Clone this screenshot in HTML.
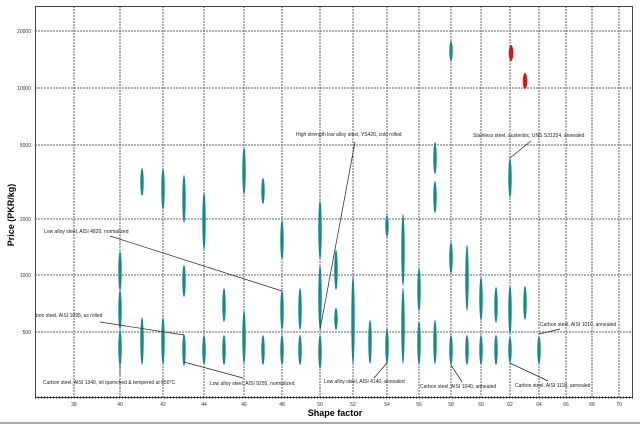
<!DOCTYPE html>
<html><head><style>body{margin:0;background:#fff}svg{display:block}text{font-family:"Liberation Sans",sans-serif}</style></head>
<body>
<svg width="640" height="426" viewBox="0 0 640 426">
<rect x="0" y="0" width="640" height="426" fill="#fff"/>
<g stroke="#666" stroke-width="1" stroke-dasharray="2,1">
<line x1="35" y1="31" x2="633" y2="31"/><line x1="35" y1="88" x2="633" y2="88"/><line x1="35" y1="145" x2="633" y2="145"/><line x1="35" y1="219" x2="633" y2="219"/><line x1="35" y1="275" x2="633" y2="275"/><line x1="35" y1="332" x2="633" y2="332"/>
<line x1="74" y1="6" x2="74" y2="397"/><line x1="120" y1="6" x2="120" y2="397"/><line x1="163" y1="6" x2="163" y2="397"/><line x1="204" y1="6" x2="204" y2="397"/><line x1="244" y1="6" x2="244" y2="397"/><line x1="282" y1="6" x2="282" y2="397"/><line x1="320" y1="6" x2="320" y2="397"/><line x1="353" y1="6" x2="353" y2="397"/><line x1="387" y1="6" x2="387" y2="397"/><line x1="419" y1="6" x2="419" y2="397"/><line x1="451" y1="6" x2="451" y2="397"/><line x1="481" y1="6" x2="481" y2="397"/><line x1="510" y1="6" x2="510" y2="397"/><line x1="539" y1="6" x2="539" y2="397"/><line x1="566" y1="6" x2="566" y2="397"/><line x1="592" y1="6" x2="592" y2="397"/><line x1="619" y1="6" x2="619" y2="397"/>
</g>
<rect x="35.5" y="6.5" width="597" height="391" fill="none" stroke="#444" stroke-width="1"/>
<line x1="35" y1="397.5" x2="633" y2="397.5" stroke="#222" stroke-width="2" stroke-dasharray="1,2"/>
<line x1="0" y1="423" x2="640" y2="423" stroke="#aaa" stroke-width="2"/>
<g font-size="5" fill="#333" text-anchor="end">
<text x="31" y="33">20000</text><text x="31" y="90">10000</text><text x="31" y="147">5000</text><text x="31" y="221">2000</text><text x="31" y="277">1000</text><text x="31" y="334">500</text></g>
<g font-size="5" fill="#333" text-anchor="middle">
<text x="74" y="406">38</text><text x="120" y="406">40</text><text x="163" y="406">42</text><text x="204" y="406">44</text><text x="244" y="406">46</text><text x="282" y="406">48</text><text x="320" y="406">50</text><text x="353" y="406">52</text><text x="387" y="406">54</text><text x="419" y="406">56</text><text x="451" y="406">58</text><text x="481" y="406">60</text><text x="510" y="406">62</text><text x="539" y="406">64</text><text x="566" y="406">66</text><text x="592" y="406">68</text><text x="619" y="406">70</text></g>
<text x="335" y="416" font-size="9" font-weight="bold" text-anchor="middle">Shape factor</text>
<text transform="translate(14,215) rotate(-90)" font-size="9" font-weight="bold" text-anchor="middle">Price (PKR/kg)</text>
<g fill="#128a86">
<ellipse cx="120" cy="271" rx="1.7" ry="20"/><ellipse cx="120" cy="310" rx="1.7" ry="20"/><ellipse cx="120" cy="348" rx="1.7" ry="18"/>
<ellipse cx="142" cy="182" rx="1.7" ry="14"/><ellipse cx="142" cy="341" rx="1.7" ry="24"/>
<ellipse cx="163" cy="189" rx="1.7" ry="21"/><ellipse cx="163" cy="341" rx="1.7" ry="24"/>
<ellipse cx="184" cy="199" rx="1.7" ry="24"/><ellipse cx="184" cy="281" rx="1.7" ry="16"/><ellipse cx="184" cy="350" rx="1.7" ry="16"/>
<ellipse cx="204" cy="221" rx="1.7" ry="29"/><ellipse cx="204" cy="350" rx="1.7" ry="15"/>
<ellipse cx="224" cy="305" rx="1.7" ry="17"/><ellipse cx="224" cy="350" rx="1.7" ry="15"/>
<ellipse cx="244" cy="171" rx="1.7" ry="24"/><ellipse cx="244" cy="337" rx="1.7" ry="27"/>
<ellipse cx="263" cy="191" rx="1.7" ry="13"/><ellipse cx="263" cy="350" rx="1.7" ry="15"/>
<ellipse cx="282" cy="240" rx="1.7" ry="20"/><ellipse cx="282" cy="310" rx="1.7" ry="20"/><ellipse cx="282" cy="350" rx="1.7" ry="15"/>
<ellipse cx="300" cy="309" rx="1.7" ry="21"/><ellipse cx="300" cy="350" rx="1.7" ry="15"/>
<ellipse cx="320" cy="230" rx="1.7" ry="30"/><ellipse cx="320" cy="297" rx="1.7" ry="32"/><ellipse cx="320" cy="352" rx="1.7" ry="17"/>
<ellipse cx="336" cy="270" rx="1.7" ry="20"/><ellipse cx="336" cy="319" rx="1.7" ry="11"/>
<ellipse cx="353" cy="320" rx="1.7" ry="45"/>
<ellipse cx="370" cy="342" rx="1.7" ry="22"/>
<ellipse cx="387" cy="226" rx="1.7" ry="11"/><ellipse cx="387" cy="346" rx="1.7" ry="18"/>
<ellipse cx="403" cy="250" rx="1.7" ry="36"/><ellipse cx="403" cy="326" rx="1.7" ry="38"/>
<ellipse cx="419" cy="290" rx="1.7" ry="22"/><ellipse cx="419" cy="343" rx="1.7" ry="22"/>
<ellipse cx="435" cy="158" rx="1.7" ry="16"/><ellipse cx="435" cy="197" rx="1.7" ry="16"/><ellipse cx="435" cy="342" rx="1.7" ry="22"/>
<ellipse cx="451" cy="51" rx="1.7" ry="10"/><ellipse cx="451" cy="258" rx="1.7" ry="16"/><ellipse cx="451" cy="350" rx="1.7" ry="15"/>
<ellipse cx="467" cy="278" rx="1.7" ry="33"/><ellipse cx="467" cy="350" rx="1.7" ry="15"/>
<ellipse cx="481" cy="299" rx="1.7" ry="22"/><ellipse cx="481" cy="350" rx="1.7" ry="15"/>
<ellipse cx="496" cy="305" rx="1.7" ry="18"/><ellipse cx="496" cy="350" rx="1.7" ry="15"/>
<ellipse cx="510" cy="178" rx="1.7" ry="20"/><ellipse cx="510" cy="310" rx="1.7" ry="25"/><ellipse cx="510" cy="350" rx="1.7" ry="13"/>
<ellipse cx="525" cy="303" rx="1.7" ry="17"/>
<ellipse cx="539" cy="350" rx="1.7" ry="14"/>
</g>
<g fill="#d01818"><ellipse cx="511" cy="53" rx="2.3" ry="8"/><ellipse cx="525" cy="81" rx="2.3" ry="8"/></g>
<g stroke="#222" stroke-width="0.7" fill="none">
<polyline points="110,236 282,291"/>
<polyline points="100,322 184,335"/>
<polyline points="120,365 120,375"/>
<polyline points="184,362 243,378"/>
<polyline points="320,330 355,142"/>
<polyline points="387,363 374,378"/>
<polyline points="451,365 462,382"/>
<polyline points="510,363 548,381"/>
<polyline points="539,334 560,329"/>
<polyline points="510,158 531,141"/>
</g>
<g font-size="5" fill="#222">
<text x="44" y="233">Low alloy steel, AISI 4820, normalized</text>
<text x="36" y="317">bon steel, AISI 1095, as rolled</text>
<text x="43" y="384">Carbon steel, AISI 1340, oil quenched &amp; tempered at 650°C</text>
<text x="210" y="385">Low alloy steel, AISI 9255, normalized</text>
<text x="296" y="136">High strength low alloy steel, YS420, cold rolled</text>
<text x="324" y="383">Low alloy steel, AISI 4140, annealed</text>
<text x="420" y="388">Carbon steel, AISI 1040, annealed</text>
<text x="515" y="387">Carbon steel, AISI 1118, annealed</text>
<text x="540" y="326">Carbon steel, AISI 1010, annealed</text>
<text x="473" y="137">Stainless steel, austenitic, UNS S31254, annealed</text>
</g>
</svg>
</body></html>
